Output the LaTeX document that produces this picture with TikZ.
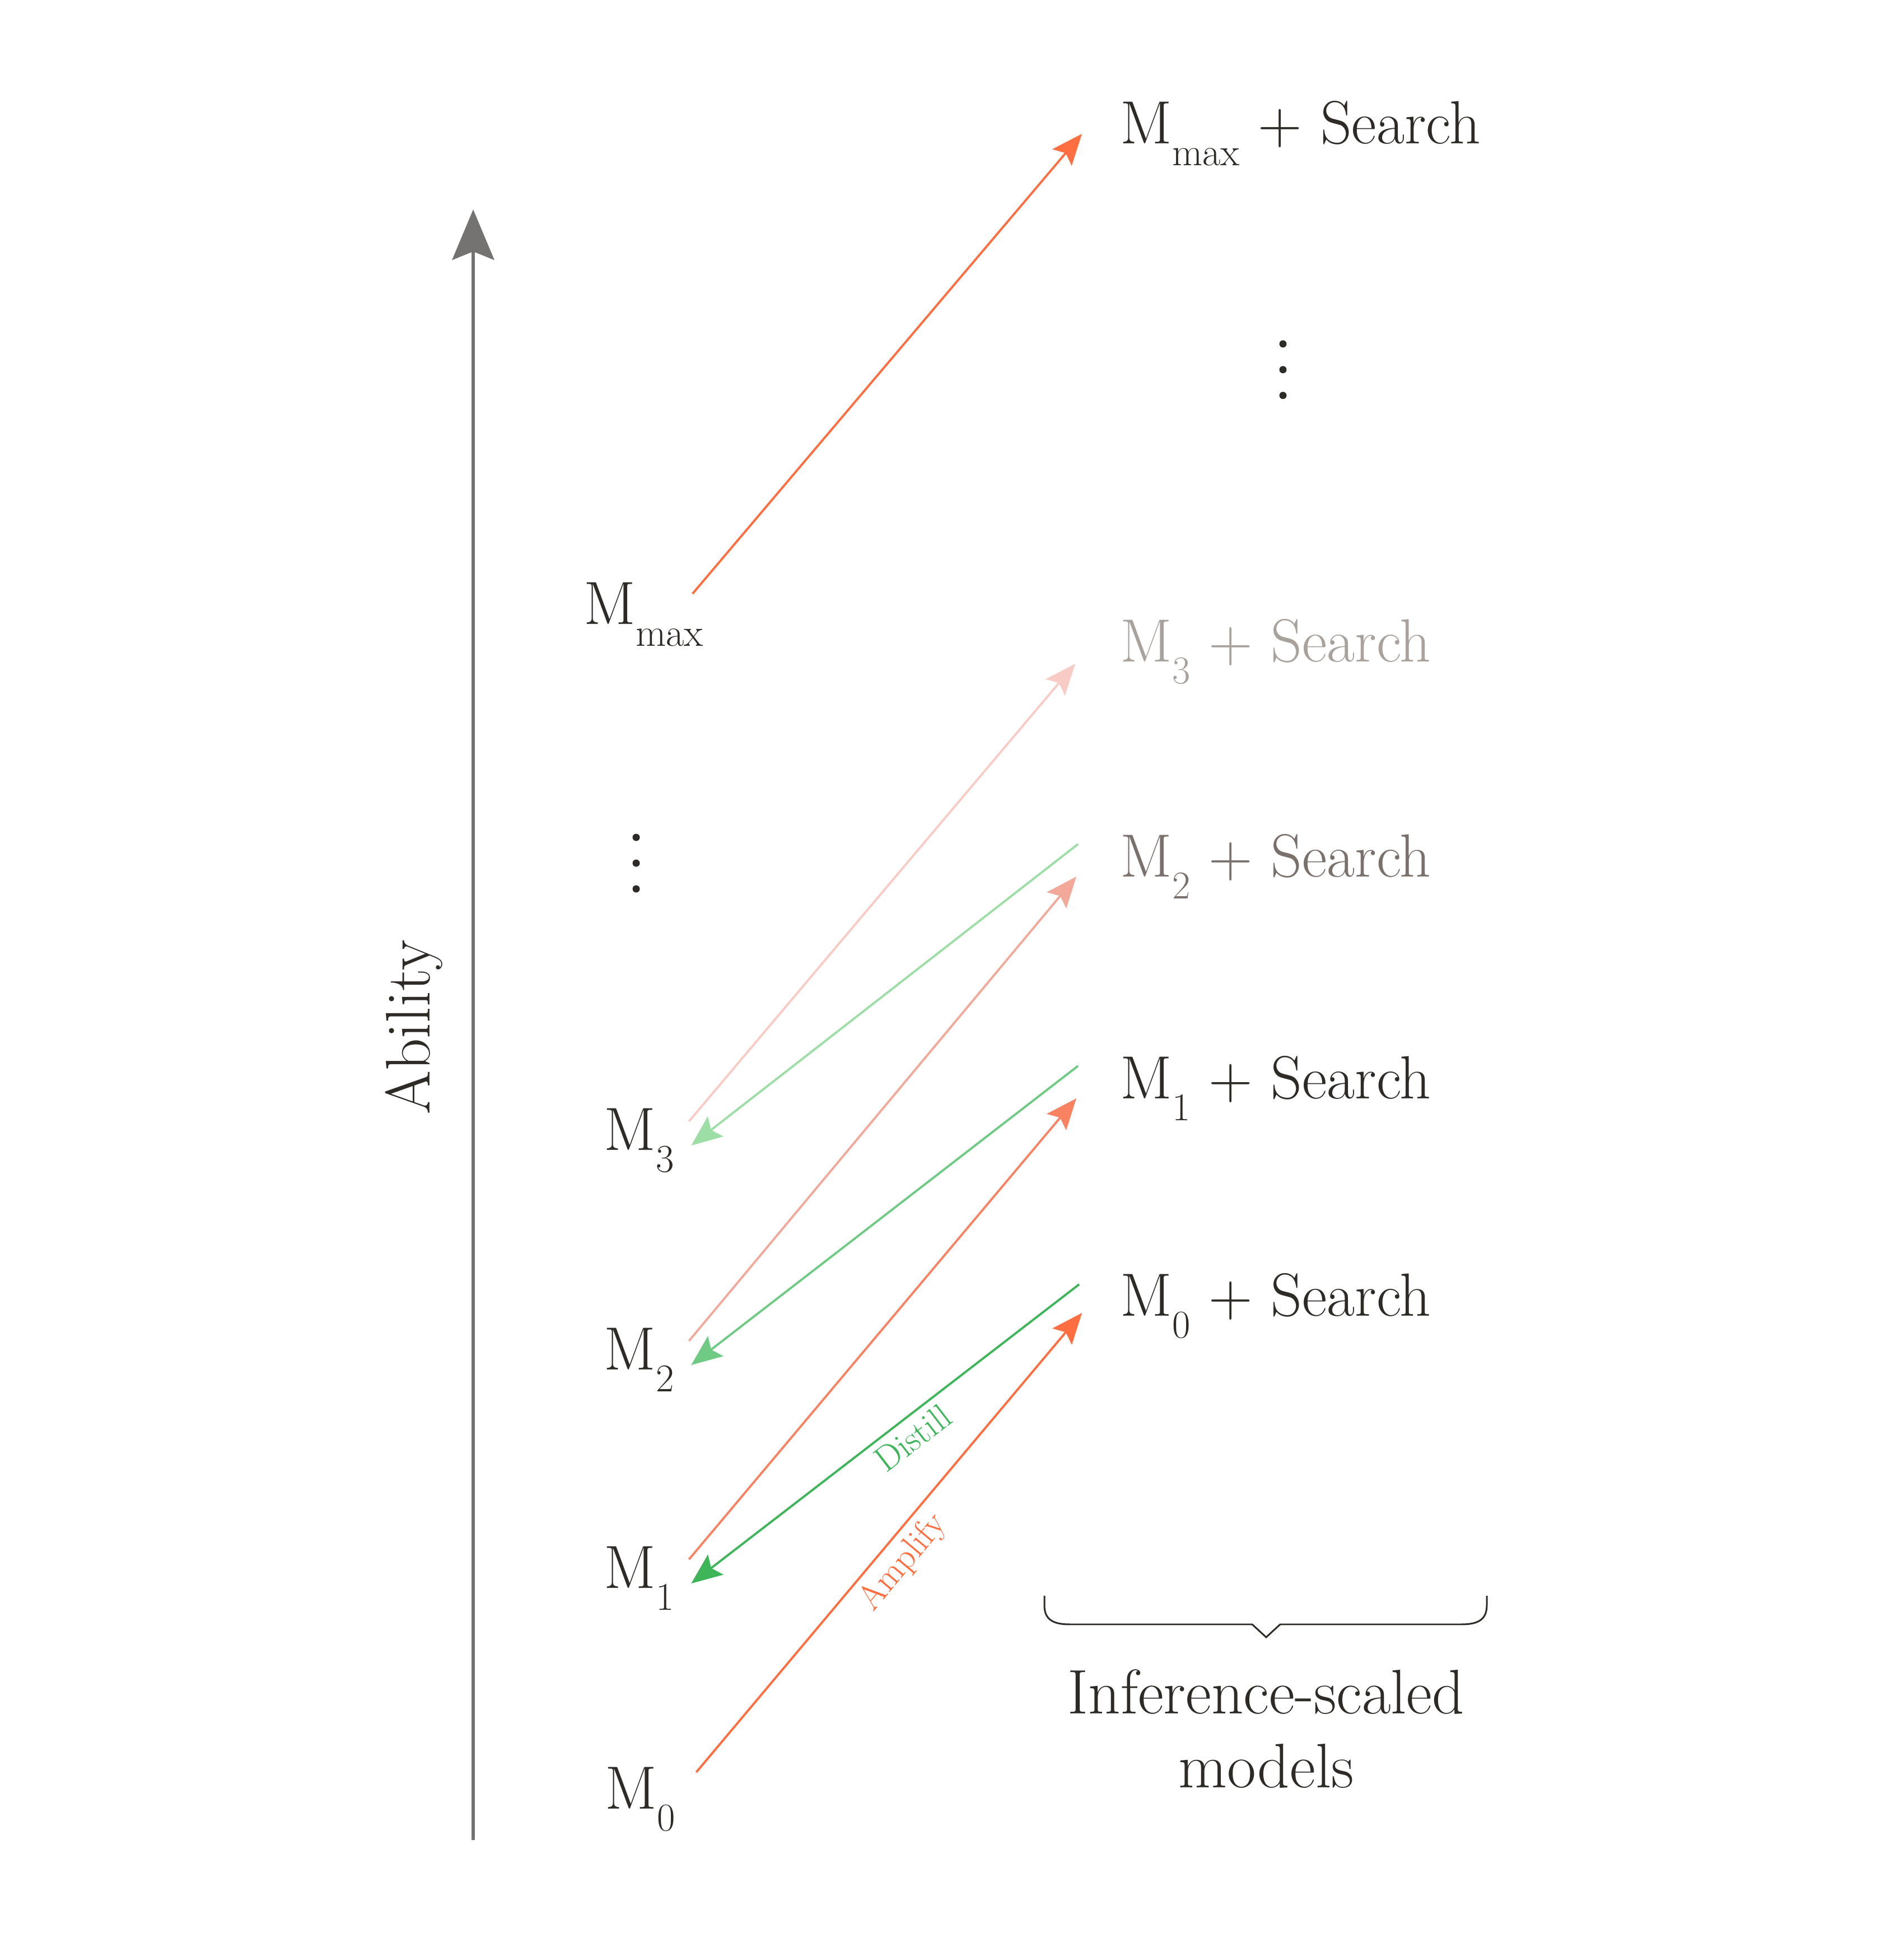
\documentclass[tikz,border=0pt]{standalone}
\usetikzlibrary{arrows.meta}

\definecolor{ink}{HTML}{2E2A26}
\definecolor{ink2}{HTML}{7A716C}
\definecolor{ink3}{HTML}{A9A29C}
\definecolor{axis}{HTML}{747372}
\definecolor{amp0}{HTML}{FF6E40}
\definecolor{amp1}{HTML}{F98262}
\definecolor{amp2}{HTML}{F2A99A}
\definecolor{amp3}{HTML}{F8CBC5}
\definecolor{dist0}{HTML}{3EB559}
\definecolor{dist1}{HTML}{6FCB83}
\definecolor{dist2}{HTML}{9DDEA6}

\newcommand{\msub}[1]{\raisebox{-0.35em}{\fontsize{20}{24}\selectfont #1}}

\tikzset{
  lbl/.style={font=\fontsize{31}{37}\selectfont, text=ink, inner sep=0pt, anchor=base west},
  blbl/.style={lbl, font=\fontsize{32}{38}\selectfont, anchor=base},
  amp/.style={line width=1.1pt, -{Stealth[length=5.5mm,width=4.5mm,inset=1mm]}},
  dist/.style={line width=1.1pt, {Stealth[length=5.5mm,width=4.5mm,inset=1mm]}-},
  tag/.style={font=\fontsize{18}{20}\selectfont, sloped}
}

\begin{document}
\begin{tikzpicture}
\useasboundingbox (0,0) rectangle (33.99,34.51);

% ability axis
\draw[line width=1.7pt, color=axis, -{Stealth[length=9mm,width=7.5mm,inset=1.5mm]}] (8.45,1.66) -- (8.45,30.77) ;
\node[font=\fontsize{32}{38}\selectfont, text=ink, rotate=90, anchor=base] (ability) at (7.67,16.17) {Ability} ;

% base models
\node[lbl] (m0) at (10.80,2.21) {M\msub{0}} ;
\node[lbl] (m1) at (10.78,6.15) {M\msub{1}} ;
\node[lbl] (m2) at (10.78,10.05) {M\msub{2}} ;
\node[lbl] (m3) at (10.78,13.97) {M\msub{3}} ;
\node[lbl] (mmax) at (10.42,23.36) {M\msub{max}} ;
\foreach \y in {19.56,19.10,18.64} \fill[ink] (11.36,\y) circle (0.065) ;

% inference-scaled models
\node[lbl] (s0) at (20.00,11.01) {M\msub{0} + Search} ;
\node[lbl] (s1) at (20.00,14.89) {M\msub{1} + Search} ;
\node[lbl, text=ink2] (s2) at (20.00,18.85) {M\msub{2} + Search} ;
\node[lbl, text=ink3] (s3) at (20.00,22.69) {M\msub{3} + Search} ;
\node[lbl] (smax) at (20.00,31.94) {M\msub{max} + Search} ;
\foreach \y in {28.37,27.91,27.45} \fill[ink] (22.91,\y) circle (0.065) ;

% amplify
\draw[amp, amp0] ([shift={(0.37,0.66)}]m0.base east) -- ([shift={(-0.68,0.06)}]s0.base west)
  node[tag, pos=0.49, below, text=amp0] {Amplify} ;
\draw[amp, amp1] ([shift={(0.26,0.52)}]m1.base east) -- ([shift={(-0.78,0.01)}]s1.base west) ;
\draw[amp, amp2] ([shift={(0.26,0.52)}]m2.base east) -- ([shift={(-0.78,0.01)}]s2.base west) ;
\draw[amp, amp3] ([shift={(0.26,0.52)}]m3.base east) -- ([shift={(-0.80,-0.03)}]s3.base west) ;
\draw[amp, amp0] ([shift={(-0.20,0.55)}]mmax.base east) -- ([shift={(-0.68,0.18)}]smax.base west) ;

% distill
\draw[dist, dist0] ([shift={(0.30,0.09)}]m1.base east) -- ([shift={(-0.73,0.57)}]s0.base west)
  node[tag, pos=0.54, below, text=dist0] {Distill} ;
\draw[dist, dist1] ([shift={(0.30,0.09)}]m2.base east) -- ([shift={(-0.75,0.59)}]s1.base west) ;
\draw[dist, dist2] ([shift={(0.30,0.09)}]m3.base east) -- ([shift={(-0.75,0.59)}]s2.base west) ;

% brace
\draw[ink, line width=0.85pt] (18.65,6.02) -- (18.65,5.85) .. controls (18.65,5.60) and (18.80,5.51) .. (19.10,5.51)
  -- (22.36,5.51) -- (22.61,5.28) -- (22.86,5.51) -- (26.10,5.51) .. controls (26.40,5.51) and (26.55,5.60) .. (26.55,5.85) -- (26.55,6.02) ;
\node[blbl] (inf) at (22.61,3.91) {Inference-scaled} ;
\node[blbl] (models) at (22.61,2.59) {models} ;
\end{tikzpicture}
\end{document}
